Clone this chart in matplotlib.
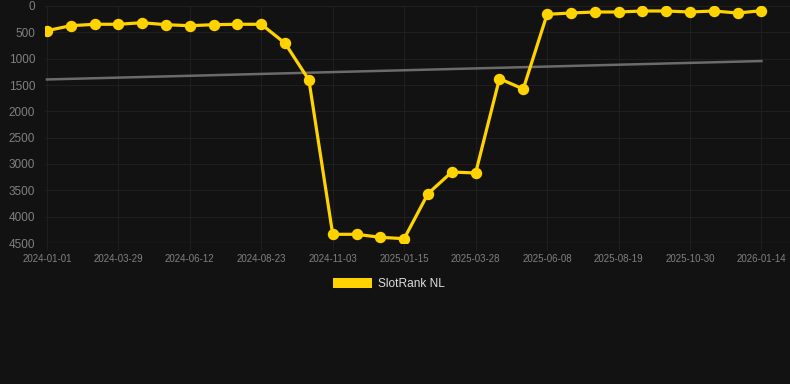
import matplotlib.pyplot as plt
from matplotlib.patches import Patch

# data (rank per period, lower is better)
dates = ['2024-01-01', '2024-03-29', '2024-06-12', '2024-08-23', '2024-11-03',
         '2025-01-15', '2025-03-28', '2025-06-08', '2025-08-19', '2025-10-30',
         '2026-01-14']
rank = [469, 374, 347, 347, 317, 355, 374, 355, 347, 347,
        708, 1405, 4335, 4335, 4392, 4418, 3563, 3152, 3171, 1380,
        1576, 158, 133, 114, 114, 95, 95, 114, 95, 133, 89]
trend = [1395, 1045]

bg = '#121212'
grid_c = '#1f1f1f'
yellow = '#FFD300'

fig = plt.figure(figsize=(7.9, 3.84), dpi=100, facecolor=bg)
ax = fig.add_axes([45 / 790, (384 - 243) / 384, 745 / 790, 237 / 384])
ax.set_facecolor(bg)

x = list(range(len(rank)))
ax.plot([x[0], x[-1]], trend, color='#6b6b6b', lw=1.8, zorder=2)
ax.plot(x, rank, color=yellow, lw=2.3, marker='o', markersize=7.2, zorder=3)

ax.set_ylim(4500, 0)
ax.set_xlim(-0.08, 31.2)
ax.set_yticks(range(0, 4501, 500))
ax.set_xticks(x[::3])
ax.set_xticklabels(dates)

ax.grid(True, color=grid_c, lw=0.8)
for s in ax.spines.values():
    s.set_visible(False)
ax.axhline(4500, color='#2a2a2a', lw=1)

ax.tick_params(axis='x', colors=grid_c, length=5, pad=3, labelsize=7,
               labelcolor='#808080')
ax.tick_params(axis='y', length=0, pad=7, labelsize=8.5, labelcolor='#808080')
for lab in ax.get_xticklabels() + ax.get_yticklabels():
    lab.set_fontfamily('Liberation Sans')

fig.legend(handles=[Patch(facecolor=yellow)], labels=['SlotRank NL'],
           loc='center', bbox_to_anchor=(389 / 790, 1 - 284 / 384),
           frameon=False, handlelength=3.3, handleheight=0.85,
           handletextpad=0.5, labelcolor='#dddddd',
           prop={'family': 'Liberation Sans', 'size': 8.6})

fig.savefig('out.png', facecolor=bg)
